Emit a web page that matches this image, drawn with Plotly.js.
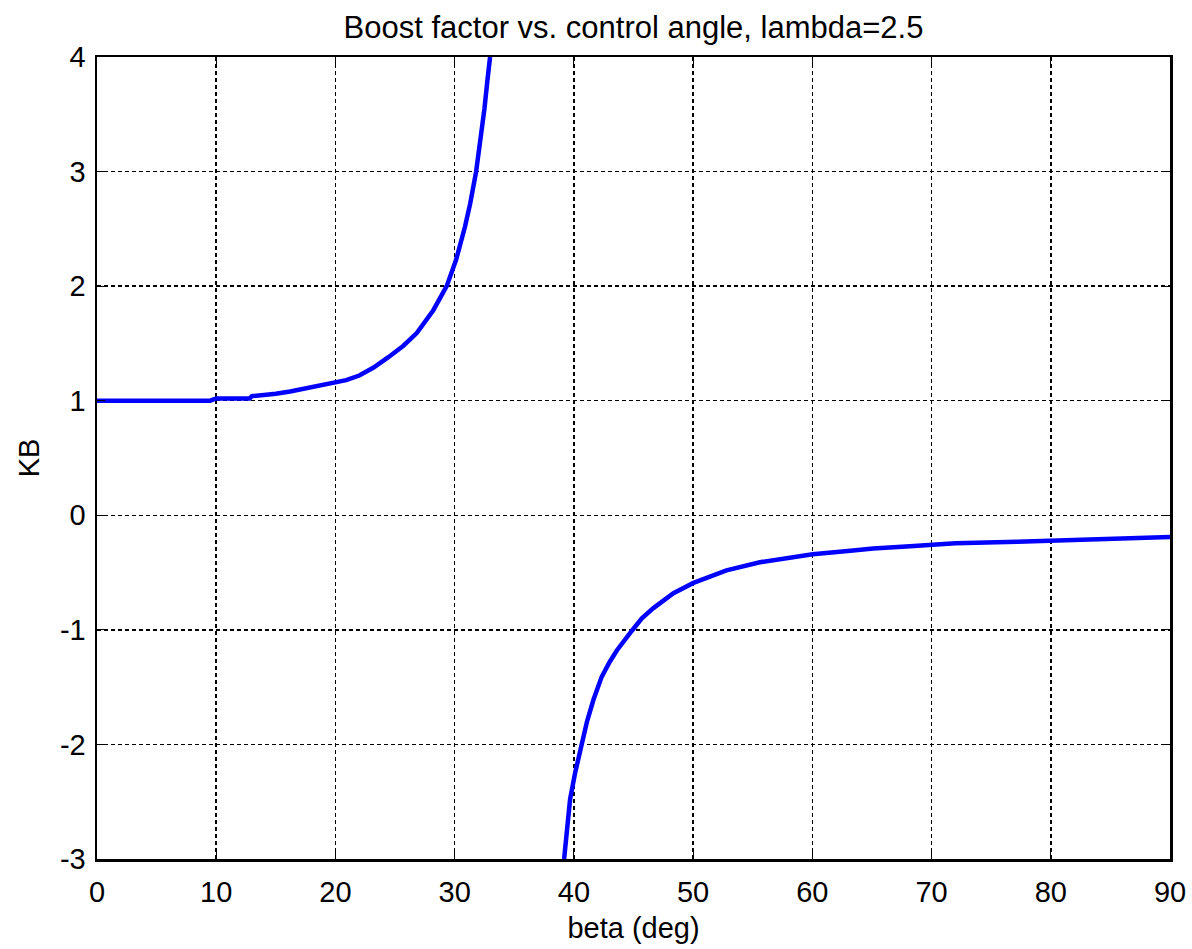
<!DOCTYPE html>
<html>
<head>
<meta charset="utf-8">
<script src="https://cdn.plot.ly/plotly-3.0.1.min.js"></script>
<style>html,body{margin:0;padding:0;background:#fff;}#chart{width:1192px;height:949px;}</style>
</head>
<body>
<div id="chart"></div>
<script>
// Branch below the pole (beta in deg, KB)
const betaLow = [0, 9.5, 10, 12.8, 13, 14.8, 15, 16.2, 17.6, 19, 20.9, 22, 23.2, 24.44, 25.7, 26.82, 28.21, 29.33, 30.12, 30.87, 31.3, 31.8, 32.2, 32.5, 32.75, 32.97];
const kbLow   = [1, 1, 1.02, 1.02, 1.04, 1.05, 1.06, 1.08, 1.11, 1.14, 1.18, 1.22, 1.29, 1.38, 1.48, 1.59, 1.79, 2.0, 2.23, 2.52, 2.72, 3.0, 3.3, 3.55, 3.8, 4.0];
// Branch above the pole
const betaHigh = [39.18, 39.4, 39.68, 40.1, 40.66, 41.1, 41.64, 42.33, 43.0, 43.6, 44.85, 45.7, 46.67, 48.35, 50.03, 52.8, 55.6, 58, 60.03, 63.2, 65.1, 68.2, 72.0, 77.2, 83.2, 88.5, 90];
const kbHigh   = [-3, -2.75, -2.48, -2.25, -2.0, -1.8, -1.61, -1.41, -1.28, -1.18, -1.01, -0.9, -0.81, -0.68, -0.59, -0.48, -0.41, -0.37, -0.34, -0.31, -0.29, -0.27, -0.245, -0.23, -0.21, -0.19, -0.19];

const xTicks = [0, 10, 20, 30, 40, 50, 60, 70, 80, 90];
const yTicks = [-3, -2, -1, 0, 1, 2, 3, 4];

const lineStyle = {color: '#0000ff', width: 4.5};
const traces = [
  {x: betaLow, y: kbLow, mode: 'lines', line: lineStyle, showlegend: false, hoverinfo: 'x+y'},
  {x: betaHigh, y: kbHigh, mode: 'lines', line: lineStyle, showlegend: false, hoverinfo: 'x+y'}
];

const fontFam = 'Liberation Sans, Arial, sans-serif';
const layout = {
  width: 1192, height: 949,
  paper_bgcolor: '#fff', plot_bgcolor: '#fff',
  margin: {l: 97, r: 22, t: 57, b: 90},
  font: {family: fontFam, color: '#000', size: 29},
  title: {text: 'Boost factor vs. control angle, lambda=2.5', font: {family: fontFam, size: 31, color: '#000'},
          x: 0.5, xref: 'paper', y: 1, yref: 'paper', yanchor: 'bottom', pad: {b: 19}},
  xaxis: {
    range: [0, 90], tickvals: xTicks, ticktext: xTicks.map(String),
    showgrid: true, gridcolor: '#000', griddash: '4px,3px', gridwidth: 1.5,
    zeroline: false, showline: true, linecolor: '#000', linewidth: 2.5, mirror: 'ticks',
    ticks: 'inside', ticklen: 8, tickcolor: '#000', tickwidth: 1,
    tickfont: {size: 29, family: fontFam}, ticklabelstandoff: 6,
    title: {text: 'beta (deg)', font: {size: 29, family: fontFam}, standoff: 11}
  },
  yaxis: {
    range: [-3, 4], tickvals: yTicks, ticktext: yTicks.map(String),
    showgrid: true, gridcolor: '#000', griddash: '4px,3px', gridwidth: 1.5,
    zeroline: false, showline: true, linecolor: '#000', linewidth: 2.5, mirror: 'ticks',
    ticks: 'inside', ticklen: 8, tickcolor: '#000', tickwidth: 1,
    tickfont: {size: 29, family: fontFam}, ticklabelstandoff: 3,
    title: {text: 'KB', font: {size: 29, family: fontFam}, standoff: 12}
  }
};
Plotly.newPlot('chart', traces, layout, {staticPlot: true, displayModeBar: false});
</script>
</body>
</html>
